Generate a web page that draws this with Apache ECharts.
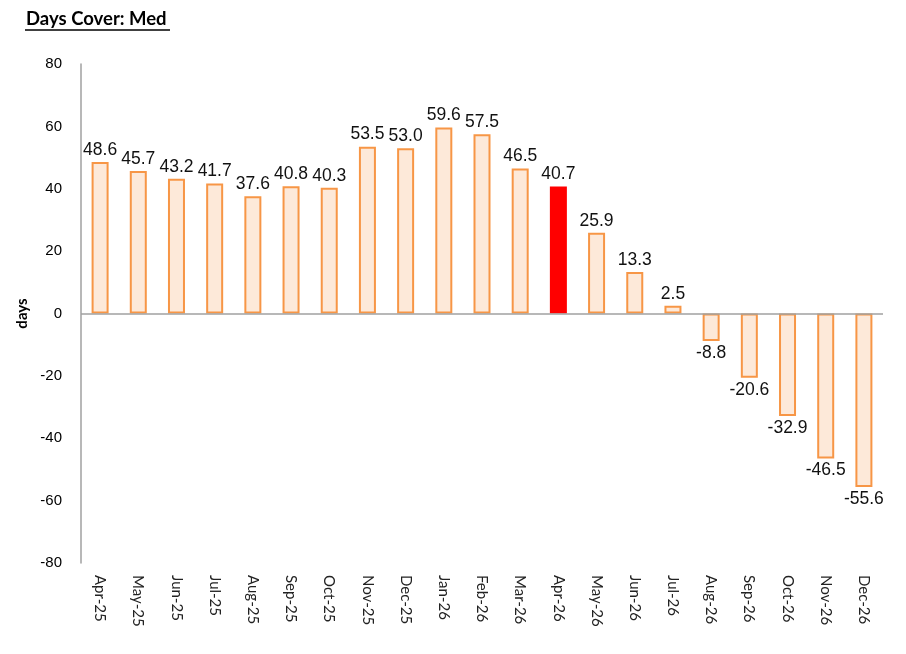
<!DOCTYPE html>
<html><head><meta charset="utf-8">
<script src="https://cdn.jsdelivr.net/npm/echarts@6/dist/echarts.min.js"></script>
<style>html,body{margin:0;padding:0;background:#fff}#c{width:906px;height:654px}</style>
</head><body><div id="c"></div>
<script>
const titleText = 'Days Cover: Med';
const yAxisName = 'days';
const categories = ['Apr-25','May-25','Jun-25','Jul-25','Aug-25','Sep-25','Oct-25','Nov-25','Dec-25','Jan-26','Feb-26','Mar-26','Apr-26','May-26','Jun-26','Jul-26','Aug-26','Sep-26','Oct-26','Nov-26','Dec-26'];
const values = [48.6,45.7,43.2,41.7,37.6,40.8,40.3,53.5,53.0,59.6,57.5,46.5,40.7,25.9,13.3,2.5,-8.8,-20.6,-32.9,-46.5,-55.6];
const highlight = 'Apr-26';

const chart = echarts.init(document.getElementById('c'), null, {renderer:'canvas'});
const data = values.map((v,i)=>{
  const hi = categories[i] === highlight;
  return {
    value: v,
    itemStyle: hi ? {color:'#FF0000', borderColor:'#FF0000'} : {},
    label: {position: v < 0 ? 'bottom' : 'top'}
  };
});
chart.setOption({
  animation:false,
  title:{text:titleText, left:26, top:10, padding:0, textStyle:{fontFamily:'Lato, "Open Sans", sans-serif', fontWeight:'bold', fontSize:18.5, color:'#000'}},
  graphic:[{type:'line', shape:{x1:25,y1:30,x2:170,y2:30}, style:{stroke:'#000', lineWidth:1.5}}],
  grid:{left:81, right:23, top:64, bottom:91},
  xAxis:{type:'category', data:categories,
    axisLine:{show:false, onZero:false}, axisTick:{show:false},
    axisLabel:{rotate:-90, interval:0, margin:12, fontFamily:'Lato, "Open Sans", sans-serif', fontSize:15, color:'#222'}},
  yAxis:{type:'value', min:-80, max:80, interval:20, name:yAxisName, nameLocation:'middle', nameGap:47, nameRotate:90,
    nameTextStyle:{fontFamily:'Lato, "Open Sans", sans-serif', fontWeight:'bold', fontSize:15, color:'#000'},
    axisLine:{show:true, lineStyle:{color:'#A0A0A0', width:1.5}}, axisTick:{show:false}, splitLine:{show:false},
    axisLabel:{fontFamily:'"Liberation Sans", Arial, sans-serif', fontSize:15, color:'#000', margin:19}},
  series:[{type:'bar', data:data, barWidth:17,
    itemStyle:{color:'#FDE9D9', borderColor:'#F79646', borderWidth:2},
    label:{show:true, formatter:p=>p.value.toFixed(1), fontFamily:'"Liberation Sans", Arial, sans-serif', fontSize:17.5, color:'#111', distance:3},
    markLine:{silent:true, symbol:'none', label:{show:false}, lineStyle:{color:'#A0A0A0', width:1.5, type:'solid'}, data:[{yAxis:0}]}
  }]
});
</script></body></html>
